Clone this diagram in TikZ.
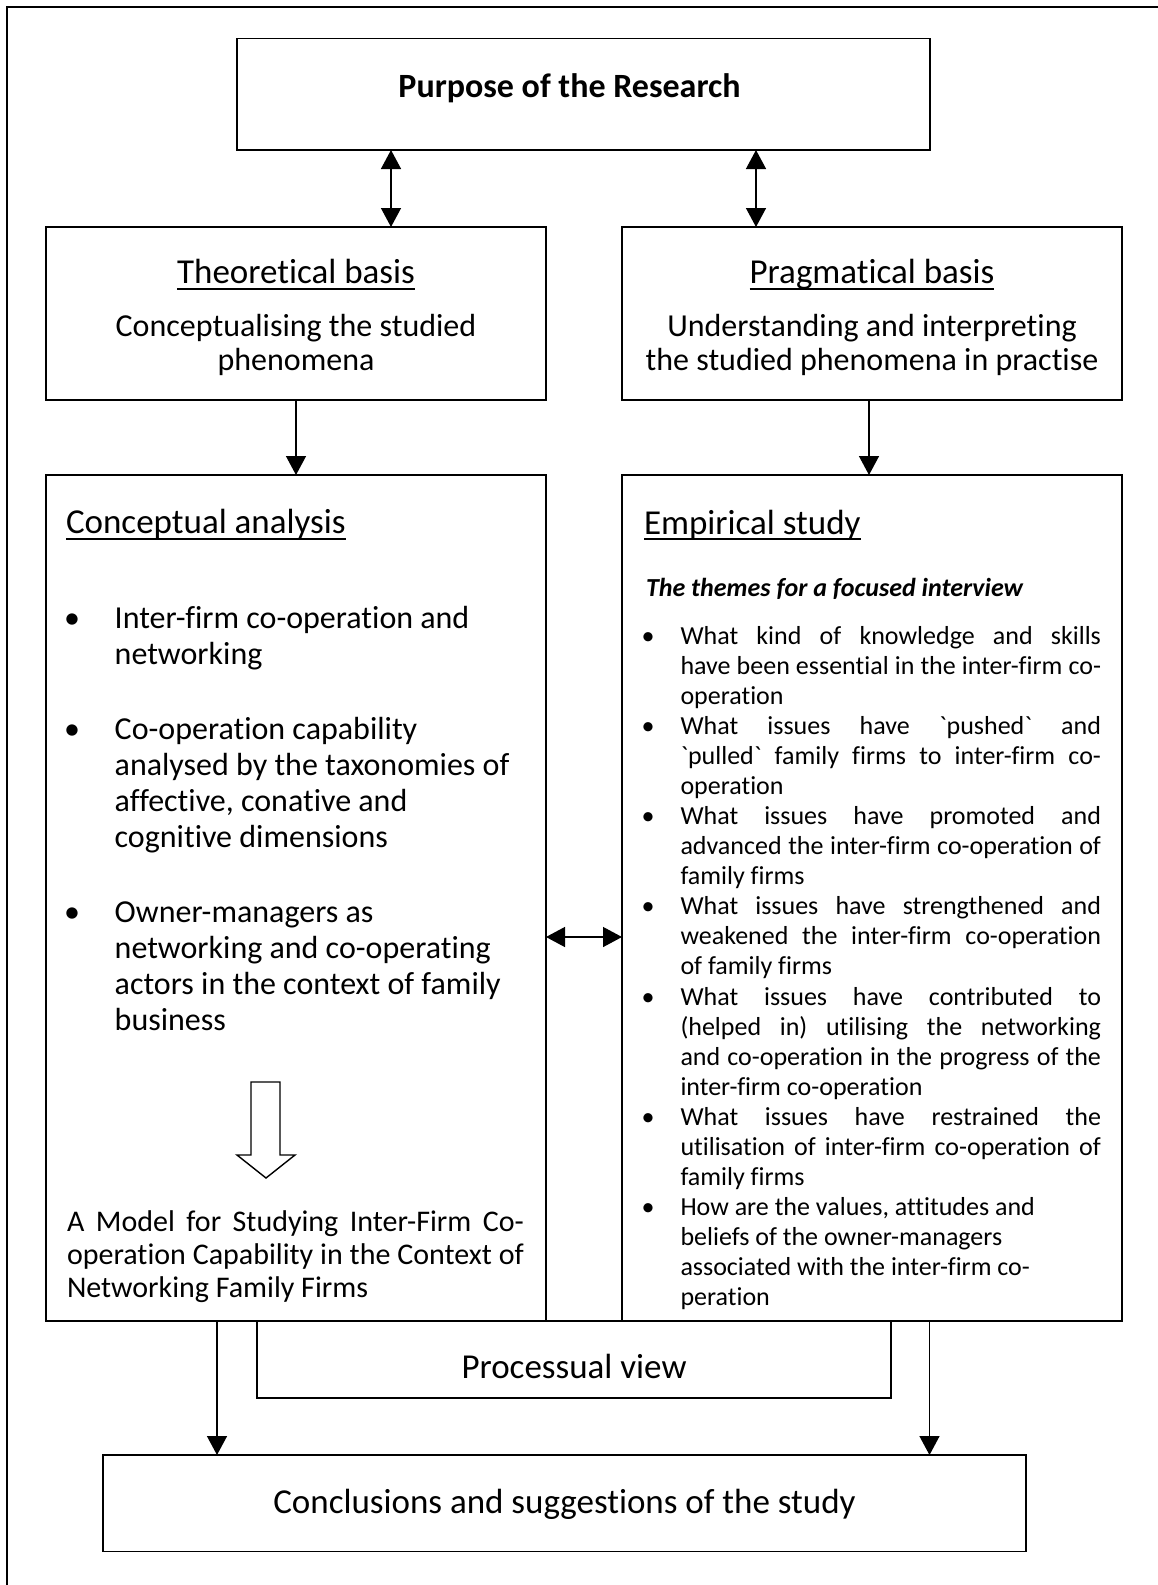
\documentclass[tikz,border=0pt]{standalone}
\usepackage{fontspec}
\setmainfont{Carlito}[Ligatures={TeXOff,CommonOff}]
\usetikzlibrary{arrows.meta}
\newcommand\fsz[1]{\fontsize{#1}{#1}\selectfont}
% a line of text spread to a fixed width (justified line)
\newcommand\jline[2]{\makebox[#1][s]{#2}}
\tikzset{
  boxstyle/.style={draw, line width=1.4pt, rectangle, anchor=north west, inner sep=0pt, outer sep=0pt},
  txt/.style={inner sep=0pt, outer sep=0pt, anchor=base west},
  ctxt/.style={inner sep=0pt, outer sep=0pt, anchor=base},
  hd/.style={font=\fsz{35}},
  big/.style={font=\fsz{32}},
  small/.style={font=\fsz{26}},
  arr/.style={line width=1.4pt, -{Triangle[length=19pt,width=20pt]}},
  darr/.style={line width=1.4pt, {Triangle[length=19pt,width=20pt]}-{Triangle[length=19pt,width=20pt]}},
  uline/.style={line width=1.6pt},
}
\begin{document}
\begin{tikzpicture}[x=1pt,y=-1pt]
\useasboundingbox (0,0) rectangle (1157,1585);
% outer frame (runs off the page on the right and bottom)
\draw[line width=2.2pt] (7,1600) -- (7,7) -- (1170,7);

% boxes
\node[boxstyle, minimum width=693pt, minimum height=111.5pt] (purpose) at (237,38.5) {};
\node[boxstyle, minimum width=500pt, minimum height=173pt] (theo) at (46,227) {};
\node[boxstyle, minimum width=500pt, minimum height=173pt] (prag) at (622,227) {};
\node[boxstyle, minimum width=500pt, minimum height=846pt] (concept) at (46,475) {};
\node[boxstyle, minimum width=500pt, minimum height=846pt] (empir) at (622,475) {};
\node[boxstyle, minimum width=634pt, minimum height=77pt] (proc) at (257,1321) {};
\node[boxstyle, minimum width=923pt, minimum height=96.5pt] (concl) at (103,1455) {};

% connectors
\draw[darr] (purpose.south -| 391,0) -- (theo.north -| 391,0);
\draw[darr] (purpose.south -| 756,0) -- (prag.north -| 756,0);
\draw[arr] (theo.south -| 296,0) -- (concept.north -| 296,0);
\draw[arr] (prag.south -| 869,0) -- (empir.north -| 869,0);
\draw[darr] (concept.east |- 0,937) -- (empir.west |- 0,937);
\draw[arr] (concept.south -| 217,0) -- (concl.north -| 217,0);
\draw[arr] (empir.south -| 929.5,0) -- (concl.north -| 929.5,0);

% top box
\node[ctxt, font=\bfseries\fsz{34}] (tpurpose) at (569.5,97) {Purpose of the Research};

% theoretical basis
\node[ctxt, hd] (ttheo) at (296,283) {Theoretical basis};
\draw[uline] ([yshift=-6pt]ttheo.base west) -- ([yshift=-6pt]ttheo.base east);
\node[ctxt, big] (ttheo1) at (296,336) {Conceptualising the studied};
\node[ctxt, big] (ttheo2) at (296,370) {phenomena};

% pragmatical basis
\node[ctxt, hd] (tprag) at (872,283) {Pragmatical basis};
\draw[uline] ([yshift=-6pt]tprag.base west) -- ([yshift=-6pt]tprag.base east);
\node[ctxt, big] (tprag1) at (872,336) {Understanding and interpreting};
\node[ctxt, big] (tprag2) at (872,370) {the studied phenomena in practise};

% conceptual analysis
\node[txt, hd] (tcon) at (66,533) {Conceptual analysis};
\draw[uline] ([yshift=-6pt]tcon.base west) -- ([yshift=-6pt]tcon.base east);
\node[ctxt, big] (cb1) at (72,628) {•};
\node[txt, big] (c1) at (114.7,628) {Inter-firm co-operation and};
\node[txt, big] (c2) at (114.7,664) {networking};
\node[ctxt, big] (cb2) at (72,739) {•};
\node[txt, big] (c3) at (114.7,739) {Co-operation capability};
\node[txt, big] (c4) at (114.7,775) {analysed by the taxonomies of};
\node[txt, big] (c5) at (114.7,811) {affective, conative and};
\node[txt, big] (c6) at (114.7,847) {cognitive dimensions};
\node[ctxt, big] (cb3) at (72,922) {•};
\node[txt, big] (c7) at (114.7,922) {Owner-managers as};
\node[txt, big] (c8) at (114.7,958) {networking and co-operating};
\node[txt, big] (c9) at (114.7,994) {actors in the context of family};
\node[txt, big] (c10) at (114.7,1030) {business};

% hollow arrow towards the model
\draw[line width=1.4pt, fill=white] (251,1082) -- (280,1082) -- (280,1155) -- (295,1155)
  -- (266,1178) -- (237,1155) -- (251,1155) -- cycle;

\node[txt, font=\fsz{30}] (m1) at (67,1231) {\jline{457pt}{A Model for Studying Inter-Firm Co-}};
\node[txt, font=\fsz{30}] (m2) at (67,1264) {\jline{457pt}{operation Capability in the Context of}};
\node[txt, font=\fsz{30}] (m3) at (67,1297) {Networking Family Firms};

% empirical study
\node[txt, hd] (temp) at (644,534) {Empirical study};
\draw[uline] ([yshift=-5pt]temp.base west) -- ([yshift=-5pt]temp.base east);
\node[txt, font=\bfseries\itshape\fsz{26}] (themes) at (646,596) {The themes for a focused interview};

\node[ctxt, small] (eb1) at (648,644) {•};
\node[txt, small] (e0) at (680.5,644) {\jline{420.5pt}{What kind of knowledge and skills}};
\node[txt, small] (e1) at (680.5,674.1) {\jline{420.5pt}{have been essential in the inter-firm co-}};
\node[txt, small] (e2) at (680.5,704.2) {operation};
\node[ctxt, small] (eb2) at (648,734.2) {•};
\node[txt, small] (e3) at (680.5,734.2) {\jline{420.5pt}{What issues have \symbol{96}pushed\symbol{96} and}};
\node[txt, small] (e4) at (680.5,764.3) {\jline{420.5pt}{\symbol{96}pulled\symbol{96} family firms to inter-firm co-}};
\node[txt, small] (e5) at (680.5,794.4) {operation};
\node[ctxt, small] (eb3) at (648,824.5) {•};
\node[txt, small] (e6) at (680.5,824.5) {\jline{420.5pt}{What issues have promoted and}};
\node[txt, small] (e7) at (680.5,854.6) {\jline{420.5pt}{advanced the inter-firm co-operation of}};
\node[txt, small] (e8) at (680.5,884.6) {family firms};
\node[ctxt, small] (eb4) at (648,914.7) {•};
\node[txt, small] (e9) at (680.5,914.7) {\jline{420.5pt}{What issues have strengthened and}};
\node[txt, small] (e10) at (680.5,944.8) {\jline{420.5pt}{weakened the inter-firm co-operation}};
\node[txt, small] (e11) at (680.5,974.9) {of family firms};
\node[ctxt, small] (eb5) at (648,1005) {•};
\node[txt, small] (e12) at (680.5,1005) {\jline{420.5pt}{What issues have contributed to}};
\node[txt, small] (e13) at (680.5,1035) {\jline{420.5pt}{(helped in) utilising the networking}};
\node[txt, small] (e14) at (680.5,1065.1) {\jline{420.5pt}{and co-operation in the progress of the}};
\node[txt, small] (e15) at (680.5,1095.2) {inter-firm co-operation};
\node[ctxt, small] (eb6) at (648,1125.3) {•};
\node[txt, small] (e16) at (680.5,1125.3) {\jline{420.5pt}{What issues have restrained the}};
\node[txt, small] (e17) at (680.5,1155.4) {\jline{420.5pt}{utilisation of inter-firm co-operation of}};
\node[txt, small] (e18) at (680.5,1185.4) {family firms};
\node[ctxt, small] (eb7) at (648,1215.5) {•};
\node[txt, small] (e19) at (680.5,1215.5) {How are the values, attitudes and};
\node[txt, small] (e20) at (680.5,1245.6) {beliefs of the owner-managers};
\node[txt, small] (e21) at (680.5,1275.7) {associated with the inter-firm co-};
\node[txt, small] (e22) at (680.5,1305.8) {peration};

% bottom boxes
\node[ctxt, hd] (tproc) at (574,1378) {Processual view};
\node[ctxt, hd] (tconcl) at (564.5,1513) {Conclusions and suggestions of the study};
\end{tikzpicture}
\end{document}
